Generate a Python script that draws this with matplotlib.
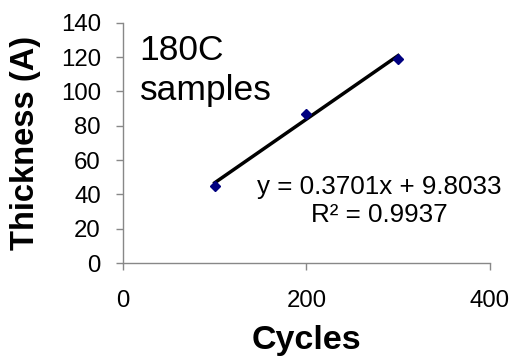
import matplotlib
matplotlib.use("Agg")
from matplotlib import pyplot as plt
import numpy as np

plt.rcParams["font.family"] = ["Liberation Sans", "DejaVu Sans"]

# data
cycles = [100, 200, 300]
thickness = [45, 87, 119]
slope = 0.3701
intercept = 9.8033
r2 = 0.9937

fig = plt.figure(figsize=(5.15, 3.6), dpi=100)
ax = fig.add_axes([0.239, 0.269, 0.712, 0.668])

# trendline over data range
xs = np.array([min(cycles), max(cycles)])
ax.plot(xs, slope * xs + intercept, color="black", lw=2.5, zorder=2)
ax.plot(cycles, thickness, linestyle="none", marker="D", ms=5.5,
        color="#000080", zorder=3)

ax.set_xlim(0, 400)
ax.set_ylim(0, 140)
ax.set_xticks([0, 200, 400])
ax.set_yticks(range(0, 141, 20))

for s in ["top", "right"]:
    ax.spines[s].set_visible(False)
for s in ["left", "bottom"]:
    ax.spines[s].set_color("#888888")
    ax.spines[s].set_linewidth(1.0)
ax.tick_params(colors="#888888", labelcolor="black", labelsize=17.3,
               length=5, width=1.0, direction="out")
ax.tick_params(axis="x", pad=14)
ax.tick_params(axis="y", pad=11)

ax.set_xlabel("Cycles", fontsize=24.5, weight="bold", labelpad=10)
ax.set_ylabel("Thickness (A)", fontsize=23.5, weight="bold", labelpad=14)

ax.text(0.045, 0.955, "180C\nsamples", transform=ax.transAxes, fontsize=25.5,
        va="top", ha="left", linespacing=1.3)
ax.text(0.699, 0.257, "y = %.4fx + %.4f\nR\u00b2 = %.4f" % (slope, intercept, r2),
        transform=ax.transAxes, fontsize=18.7, ha="center", va="center",
        multialignment="center", linespacing=1.2)

fig.savefig("out.png", dpi=100)
